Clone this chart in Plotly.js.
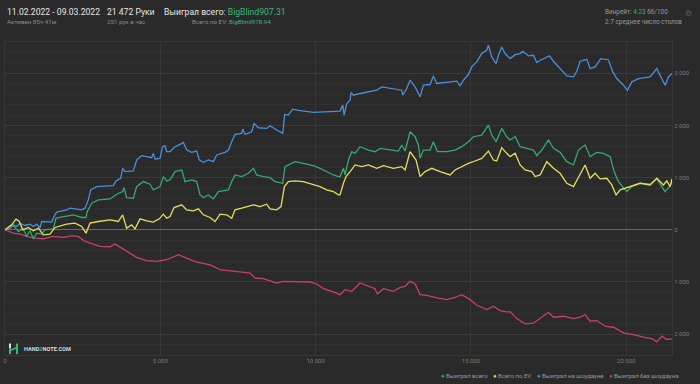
<!DOCTYPE html>
<html>
<head>
<meta charset="utf-8">
<script src="https://cdn.plot.ly/plotly-3.0.1.min.js"></script>
<style>
html,body{margin:0;padding:0;background:#2a2a2a;}
#chart{width:700px;height:384px;}
</style>
</head>
<body>
<div id="chart"></div>
<script>
// ---- Data (hands played, big blinds) ----
const seriesNames = ["Выиграл всего", "Всего по EV", "Выиграл на шоудауне", "Выиграл без шоудауна"];
const seriesColors = ["#35a970", "#e3de5a", "#4b8fd8", "#c73f6f"];

const handsSd = [0,161,268,376,483,644,805,912,1019,1127,1180,1502,1577,1663,1985,2092,2468,2575,2682,2758,2951,3487,3573,3723,3788,3863,4131,4238,4399,4560,4721,4775,4828,4989,5075,5150,5204,5313,5474,5635,5742,5850,6010,6171,6257,6386,6547,6708,6815,7083,7191,7298,7405,7620,7652,7727,7942,8017,8156,8425,8532,8747,8940,9004,9122,9262,9444,9927,10356,10787,10873,10916,11002,11109,11141,11216,11431,11753,11967,12128,12397,12772,12804,12933,13040,13201,13362,13470,13684,13791,13899,14221,14543,14650,14757,14918,15025,15186,15347,15508,15562,15669,15809,15884,15991,16098,16261,16422,16583,16669,16851,17012,17119,17227,17334,17527,17656,17817,17978,18085,18300,18407,18514,18729,18836,18997,19179,19426,19566,19695,19909,20038,20178,20392,20768,20983,21111,21251,21358,21472];
const wonSd = [0,32,96,64,127,83,108,64,108,45,159,146,255,338,382,414,382,414,573,765,828,847,937,988,1179,1115,1128,1338,1421,1402,1383,1466,1357,1370,1593,1612,1497,1497,1593,1638,1676,1529,1485,1510,1338,1294,1338,1306,1434,1485,1529,1689,1829,1848,1931,1829,1880,2039,1956,1944,1995,1912,1848,2211,2199,2313,2288,2250,2262,2275,2390,2199,2421,2485,2632,2581,2613,2657,2676,2740,2708,2676,2581,2708,2868,2740,2549,2772,2785,2950,2804,2823,2849,2759,2868,2976,3123,3218,3378,3441,3537,3314,3186,3346,3505,3378,3282,3358,3378,3422,3333,3346,3205,3250,3282,3333,3231,3123,3027,2950,2931,3040,3231,3269,3091,3123,3282,3256,3027,2899,2772,2676,2836,2899,2931,3091,2931,2772,2931,2995];

const handsWon = [0,215,322,429,590,697,805,912,1019,1180,1288,1556,1642,1985,2200,2468,2607,2650,2790,3004,3380,3595,3788,3830,3916,4131,4238,4453,4668,4775,4989,5097,5204,5313,5474,5689,5796,6010,6171,6279,6386,6547,6708,6869,7191,7298,7405,7620,7835,7996,8103,8318,8532,8693,8940,9015,9176,9337,9605,9927,10142,10356,10571,10732,10787,10894,10948,11056,11163,11270,11431,11699,11914,12075,12397,12665,12772,12879,13040,13201,13308,13362,13470,13684,13791,13920,14221,14489,14704,14918,15079,15347,15562,15669,15809,15991,16152,16261,16422,16583,16797,17012,17119,17280,17495,17656,17871,18085,18300,18461,18675,18836,19051,19265,19480,19609,19748,19909,20016,20178,20446,20768,20983,21144,21251,21390,21472];
const wonTotal = [0,96,45,-32,19,-127,-19,-172,-64,-83,0,19,223,255,287,236,236,350,510,573,592,682,733,809,618,605,828,924,873,765,828,1020,937,956,1115,1147,924,956,924,669,618,669,592,733,765,924,1051,1020,1083,1179,1051,1020,1000,924,892,1211,1255,1306,1274,1230,1179,1115,1051,1020,1020,1179,1051,1338,1497,1466,1593,1529,1497,1561,1529,1510,1625,1510,1880,1784,1625,1370,1529,1529,1689,1497,1497,1529,1593,1689,1784,1816,2007,1816,1689,1944,1784,1721,1784,1593,1561,1529,1421,1529,1721,1561,1485,1306,1243,1529,1625,1402,1485,1466,1402,1115,924,797,733,828,892,873,975,828,733,828,907];

const handsEv = [0,215,354,461,569,751,912,1073,1234,1449,1609,1824,1985,2253,2468,2607,2736,3004,3380,3648,3788,3916,4077,4185,4346,4560,4775,4968,5097,5204,5313,5442,5689,5850,6064,6225,6386,6601,6762,6923,7137,7298,7405,7620,7835,7996,8210,8425,8532,8747,8886,8994,9122,9337,9605,9927,10142,10356,10571,10732,10787,10894,10980,11109,11270,11484,11699,11967,12182,12504,12772,12879,13040,13233,13362,13523,13738,14006,14328,14489,14704,14918,15133,15347,15562,15723,15830,15991,16152,16261,16422,16583,16744,16958,17066,17227,17441,17656,17871,18085,18300,18514,18675,18836,18997,19158,19373,19534,19673,19802,19963,20178,20446,20768,20983,21197,21304,21412,21472];
const wonEv = [0,96,204,159,0,45,-19,32,-96,-83,45,83,108,127,64,-64,127,159,191,159,287,32,96,19,210,172,146,210,300,223,255,427,478,382,363,401,287,236,159,300,287,223,382,414,446,478,446,491,401,382,446,828,924,937,924,860,828,765,733,669,669,892,1020,1115,1243,1211,1243,1179,1230,1179,1211,1147,1497,1338,1020,1115,1179,1115,1051,1147,1211,1274,1319,1370,1510,1338,1319,1574,1466,1402,1466,1243,1147,1115,1020,1051,1306,1179,1083,892,828,1051,1243,988,1083,975,988,860,669,765,797,847,892,860,988,860,937,828,979];

const handsNsd = [0,268,483,697,966,1234,1556,1878,2146,2360,2575,2843,3058,3380,3541,3755,3970,4238,4560,4882,5204,5313,5581,5850,6171,6493,6654,6923,7298,7620,7888,8049,8318,8532,8747,8961,9390,9820,10034,10249,10571,10787,10948,11163,11431,11699,11914,11989,12182,12504,12718,12879,13040,13201,13362,13577,13899,14221,14435,14704,14972,15187,15509,15723,15938,16152,16261,16476,16744,17012,17280,17495,17656,17978,18300,18514,18675,18836,19051,19319,19587,19909,20231,20553,20822,20983,21144,21304,21472];
const wonNsd = [0,-64,-83,-127,-159,-172,-127,-146,-115,-127,-223,-274,-319,-325,-274,-351,-427,-529,-593,-605,-574,-542,-478,-542,-618,-657,-682,-765,-797,-810,-829,-924,-937,-975,-1020,-988,-1001,-1001,-1039,-1128,-1192,-1243,-1147,-1179,-1020,-1083,-1128,-1230,-1128,-1179,-1103,-1083,-988,-1039,-1243,-1256,-1307,-1339,-1307,-1243,-1339,-1447,-1530,-1466,-1549,-1574,-1574,-1702,-1804,-1791,-1676,-1581,-1676,-1657,-1702,-1676,-1625,-1753,-1740,-1848,-1868,-1976,-2008,-2059,-2084,-2148,-2040,-2103,-2090];

const xTickVals = [0, 5000, 10000, 15000, 20000];
const xTickText = ["0", "5 000", "10 000", "15 000", "20 000"];
const yTickVals = [-2000, -1000, 0, 1000, 2000, 3000];
const yTickText = ["2 000", "1 000", "0", "1 000", "2 000", "3 000"];

// ---- Traces ----
const mk = (x, y, i) => ({
  x: x, y: y, type: "scatter", mode: "lines", name: seriesNames[i],
  line: {color: seriesColors[i], width: 1.3}, hoverinfo: "skip", showlegend: false
});
const traces = [
  mk(handsNsd, wonNsd, 3),
  mk(handsSd, wonSd, 2),
  mk(handsWon, wonTotal, 0),
  mk(handsEv, wonEv, 1)
];

// ---- Layout helpers (plot area px: x 5..672, y 42..355) ----
const PX0 = 5, PW = 667, PY1 = 355, PH = 313;
const xp = px => (px - PX0) / PW;
const yp = py => (PY1 - py) / PH;
const green = "#3cb878";
const F = "Roboto, 'Open Sans', sans-serif";

function ann(text, px, py, size, color, anchor, extra) {
  return Object.assign({
    xref: "paper", yref: "paper", x: xp(px), y: yp(py), text: text, showarrow: false,
    xanchor: anchor || "left", yanchor: "middle",
    font: {family: F, size: size, color: color}
  }, extra || {});
}

const annotations = [
  ann("11.02.2022 - 09.03.2022", 4.5, 12, 8.6, "#e6e6e6"),
  ann("21 472 Руки", 105, 12, 8.6, "#e6e6e6"),
  ann("Выиграл всего: <span style='color:" + green + "'>BigBlind907.31</span>", 161.5, 12, 8.6, "#e6e6e6"),
  ann("Активен 85ч 41м", 4.5, 22, 6.2, "#8a8a8a"),
  ann("251 рук в час", 105, 22, 6.2, "#8a8a8a"),
  ann("Всего по EV: <span style='color:" + green + "'>BigBlind978.94</span>", 273, 22, 6.2, "#8a8a8a", "right"),
  ann("Винрейт: <span style='color:" + green + "'>4.23</span> бб/100", 602.5, 12, 6.4, "#9a9a9a"),
  ann("2.7 среднее число столов", 602.5, 22, 6.4, "#9a9a9a"),
  ann("⚙", 688.5, 13, 8, "#5e5e5e", "center"),
  ann("<b>HAND<span style='color:#3cb878'>2</span>NOTE.COM</b>", 21.5, 349, 5.6, "#dcdcdc"),
  ann("<span style='color:" + seriesColors[0] + "'>●</span> " + seriesNames[0], 438.5, 375, 6, "#9a9a9a"),
  ann("<span style='color:" + seriesColors[1] + "'>●</span> " + seriesNames[1], 490.5, 375, 6, "#9a9a9a"),
  ann("<span style='color:" + seriesColors[2] + "'>●</span> " + seriesNames[2], 535, 375, 6, "#9a9a9a"),
  ann("<span style='color:" + seriesColors[3] + "'>●</span> " + seriesNames[3], 606.5, 375, 6, "#9a9a9a")
];

const shapes = [
  {type: "line", xref: "paper", yref: "paper", x0: xp(10), x1: xp(10), y0: yp(343.5), y1: yp(348.5), line: {color: "#e0e0e0", width: 2}},
  {type: "line", xref: "paper", yref: "paper", x0: xp(10), x1: xp(10), y0: yp(348.5), y1: yp(354), line: {color: "#3cb878", width: 2}},
  {type: "line", xref: "paper", yref: "paper", x0: xp(17), x1: xp(17), y0: yp(343.5), y1: yp(354), line: {color: "#3cb878", width: 2}},
  {type: "line", xref: "paper", yref: "paper", x0: xp(10), x1: xp(17), y0: yp(350.5), y1: yp(347.5), line: {color: "#3cb878", width: 1.6}}
];

const layout = {
  width: 700, height: 384,
  paper_bgcolor: "#2a2a2a", plot_bgcolor: "#2a2a2a",
  margin: {l: PX0, r: 700 - PX0 - PW, t: PY1 - PH, b: 384 - PY1, pad: 0},
  showlegend: false,
  font: {family: F, color: "#7c7c7c", size: 6},
  xaxis: {
    range: [0, 21472], tickvals: xTickVals, ticktext: xTickText,
    showgrid: true, gridcolor: "#363636", gridwidth: 1, zeroline: false,
    showline: true, mirror: true, linecolor: "#363636", linewidth: 1,
    ticks: "", tickfont: {size: 6, color: "#7c7c7c", family: F}, fixedrange: true
  },
  yaxis: {
    range: [-2400, 3600], side: "right", tickvals: yTickVals, ticktext: yTickText,
    showgrid: true, gridcolor: "#3b3b3b", gridwidth: 1,
    minor: {dtick: 200, tick0: 0, showgrid: true, gridcolor: "#313131", gridwidth: 1},
    zeroline: true, zerolinecolor: "#6a6a6a", zerolinewidth: 1,
    showline: true, mirror: true, linecolor: "#363636", linewidth: 1,
    ticks: "", tickfont: {size: 6, color: "#7c7c7c", family: F}, fixedrange: true
  },
  annotations: annotations,
  shapes: shapes
};

Plotly.newPlot("chart", traces, layout, {displayModeBar: false, staticPlot: true});
</script>
</body>
</html>
